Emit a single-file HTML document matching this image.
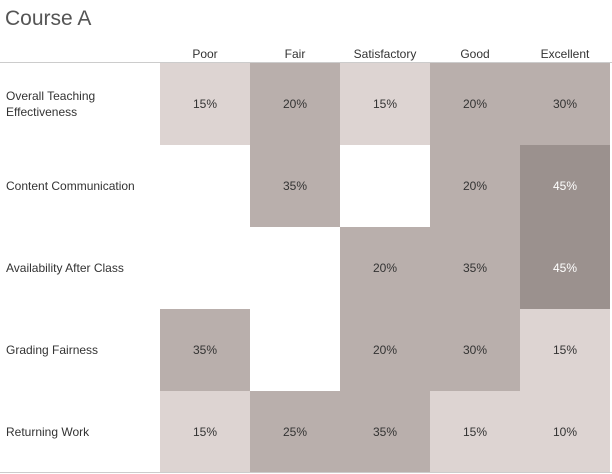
<!DOCTYPE html>
<html><head><meta charset="utf-8"><style>
body{margin:0;width:612px;height:474px;background:#fff;font-family:"Liberation Sans",sans-serif;overflow:hidden;position:relative}
.t{position:absolute;left:5px;top:7px;font-size:21px;color:#555;font-weight:300}
</style></head><body>
<div class="t">Course A</div>
<svg id="c" width="612" height="474" style="position:absolute;left:0;top:0"></svg>
<script>
const cols=["Poor","Fair","Satisfactory","Good","Excellent"];
const rows=[["Overall Teaching","Effectiveness"],["Content Communication"],["Availability After Class"],["Grading Fairness"],["Returning Work"]];
const vOverall=[15,20,15,20,30];
const vContent=[null,35,null,20,45];
const vAvail=[null,null,20,35,45];
const vGrading=[35,null,20,30,15];
const vReturning=[15,25,35,15,10];
const values=[vOverall,vContent,vAvail,vGrading,vReturning];
const svg=document.getElementById('c');const NS='http://www.w3.org/2000/svg';
const x0=160,cw=90,y0=63,rh=82;
const xs=i=>x0+i*cw, ys=j=>y0+j*rh;
function col(v){return v>=45?'#9b918e':(v>=20?'#b9afac':'#ddd4d2');}
function mk(t,a){const e=document.createElementNS(NS,t);for(const k in a)e.setAttribute(k,a[k]);svg.appendChild(e);return e;}
cols.forEach((c,i)=>{const t=mk('text',{x:xs(i)+cw/2,y:58,'text-anchor':'middle','font-size':12,fill:'#333'});t.textContent=c;

});
mk('line',{x1:0,x2:612,y1:y0-0.5,y2:y0-0.5,stroke:'#ccc'});
rows.forEach((r,j)=>{
 const t=mk('text',{x:6,'font-size':12,fill:'#333'});
 
 
 r.forEach((s,k)=>{const ts=document.createElementNS(NS,'tspan');ts.setAttribute('x',6);ts.setAttribute('y',ys(j)+rh/2+4+(k-(r.length-1)/2)*16);ts.textContent=s;t.appendChild(ts);});
 values[j].forEach((v,i)=>{if(v==null)return;
  const rc=mk('rect',{x:xs(i),y:ys(j),width:cw,height:rh,fill:col(v)});
  
  
  const tt=mk('text',{x:xs(i)+cw/2,y:ys(j)+rh/2+4,'text-anchor':'middle','font-size':12,fill:v>=45?'#fff':'#333'});tt.textContent=v+'%';
  
  
 });
});
mk('line',{x1:0,x2:612,y1:472.5,y2:472.5,stroke:'#ccc'});
</script>
</body></html>
